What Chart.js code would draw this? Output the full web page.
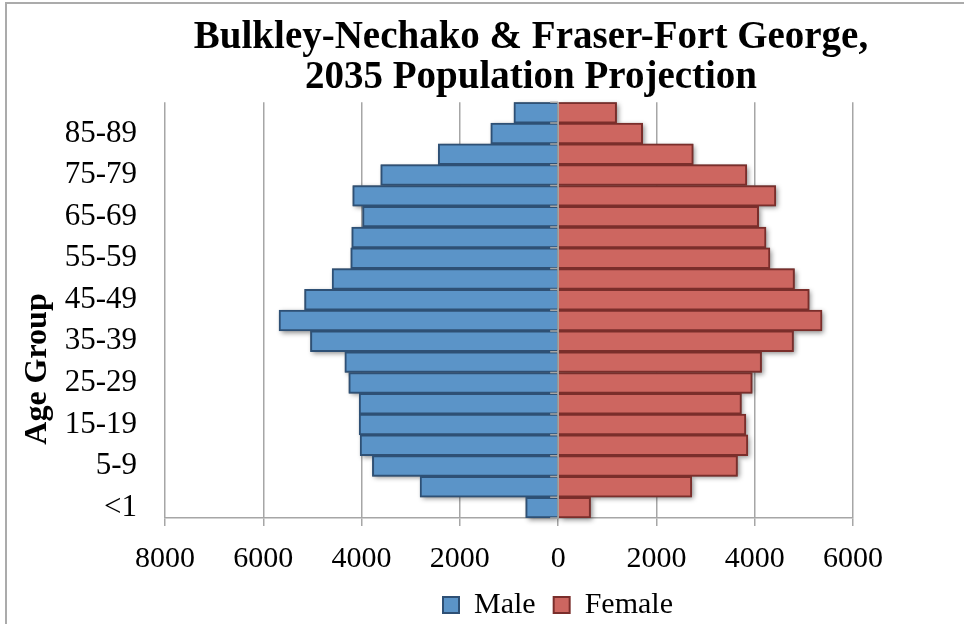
<!DOCTYPE html>
<html><head><meta charset="utf-8">
<script src="https://cdn.jsdelivr.net/npm/chart.js@4"></script>
<style>
html,body{margin:0;padding:0;background:#fff;overflow:hidden;}
#wrap{position:relative;width:964px;height:624px;overflow:hidden;}
#frame{position:absolute;left:5px;top:2px;width:1000px;height:700px;border:2px solid #ababab;box-sizing:border-box;pointer-events:none;}
canvas{position:absolute;left:0;top:0;}
</style></head><body>
<div id="wrap"><canvas id="c" width="964" height="624"></canvas><div id="frame"></div></div>
<script>
// Data (youngest to oldest)
const categories = ['<1','1-4','5-9','10-14','15-19','20-24','25-29','30-34','35-39','40-44','45-49','50-54','55-59','60-64','65-69','70-74','75-79','80-84','85-89','90+'];
const maleValues = [660, 2810, 3780, 4030, 4050, 4050, 4260, 4340, 5040, 5680, 5160, 4600, 4220, 4200, 3980, 4180, 3610, 2440, 1370, 900];
const femaleValues = [660, 2720, 3650, 3860, 3820, 3730, 3950, 4140, 4790, 5370, 5110, 4810, 4310, 4230, 4080, 4430, 3840, 2750, 1720, 1190];
const seriesNames = ['Male', 'Female'];
const titleLines = ['Bulkley-Nechako & Fraser-Fort George,', '2035 Population Projection'];
const yAxisTitle = 'Age Group';
const xMin = -8000, xMax = 6000, xStep = 2000;

const FONT = "'Liberation Serif', 'Times New Roman', serif";
Chart.defaults.font.family = FONT;
Chart.defaults.color = '#000';

const shiftPlugin = {
  id: 'shiftBlocks',
  afterLayout(chart) {
    const t = chart.titleBlock;
    if (t) { const d = 531 - (t.left + t.right) / 2; t.left += d; t.right += d; }
    const l = chart.legend;
    if (l) { const d = 558 - (l.left + l.right) / 2; l.left += d; l.right += d; }
  }
};

const shadowPlugin = {
  id: 'barShadow',
  beforeDatasetsDraw(chart) {
    const ctx = chart.ctx;
    ctx.save();
    ctx.shadowColor = 'rgba(0,0,0,0.45)';
    ctx.shadowBlur = 5;
    ctx.shadowOffsetX = 2;
    ctx.shadowOffsetY = 2;
    ctx.fillStyle = '#777';
    chart.data.datasets.forEach((ds, di) => {
      chart.getDatasetMeta(di).data.forEach(el => {
        const p = el.getProps(['x', 'y', 'base', 'height'], true);
        const l = Math.min(p.x, p.base), r = Math.max(p.x, p.base);
        ctx.fillRect(l, p.y - p.height / 2, r - l, p.height);
      });
    });
    ctx.restore();
  }
};

const zeroAxisPlugin = {
  id: 'zeroAxis',
  afterDatasetsDraw(chart) {
    const ctx = chart.ctx, xs = chart.scales.x, a = chart.chartArea;
    const x0 = xs.getPixelForValue(0);
    const n = categories.length, step = (a.bottom - a.top) / n;
    ctx.save();
    ctx.strokeStyle = '#a6a6a6';
    ctx.lineWidth = 1.5;
    ctx.beginPath();
    ctx.moveTo(x0, a.top); ctx.lineTo(x0, a.bottom);
    for (let i = 0; i <= n; i++) {
      const y = a.top + i * step;
      ctx.moveTo(x0 - 8, y); ctx.lineTo(x0, y);
    }
    ctx.stroke();
    ctx.restore();
  }
};

const yTitlePlugin = {
  id: 'yTitle',
  afterDraw(chart) {
    const ctx = chart.ctx;
    ctx.save();
    ctx.translate(38, 369);
    ctx.rotate(-Math.PI / 2);
    ctx.font = "bold 32px " + FONT;
    ctx.textAlign = 'center';
    ctx.textBaseline = 'middle';
    ctx.fillStyle = '#000';
    ctx.fillText(yAxisTitle, 0, 0);
    ctx.restore();
  }
};

new Chart(document.getElementById('c'), {
  type: 'bar',
  data: {
    labels: categories,
    datasets: [
      { label: seriesNames[0], data: maleValues.map(v => -v), backgroundColor: '#5b94c8', borderColor: '#2e5075', borderWidth: 2, borderSkipped: 'start' },
      { label: seriesNames[1], data: femaleValues, backgroundColor: '#cd6660', borderColor: '#7a2e2b', borderWidth: 2, borderSkipped: 'start' }
    ]
  },
  options: {
    indexAxis: 'y',
    responsive: false,
    animation: false,
    devicePixelRatio: 1,
    datasets: { bar: { barPercentage: 1, categoryPercentage: 1 } },
    layout: { padding: { left: 0, right: 111, top: 4, bottom: -6 } },
    scales: {
      x: {
        stacked: true, min: xMin, max: xMax,
        ticks: { stepSize: xStep, callback: v => Math.abs(v), font: { size: 30, lineHeight: 1 }, padding: 18, maxRotation: 0, color: '#000' },
        grid: { color: '#a6a6a6', lineWidth: 1.5, tickLength: 8 },
        border: { color: '#a6a6a6', width: 1.5 },
        afterFit: s => { s.height = 54; }
      },
      y: {
        stacked: true, reverse: true,
        grid: { display: false, drawTicks: false },
        border: { display: false },
        ticks: {
          autoSkip: false, font: { size: 31 }, padding: 28, color: '#000',
          callback: function (v, i) { return i % 2 === 0 ? this.getLabelForValue(v) : ''; }
        },
        afterFit: s => { s.width = 165; }
      }
    },
    plugins: {
      title: { display: true, text: titleLines, font: { size: 39, weight: 'bold', lineHeight: 1.03 }, padding: { top: 14, bottom: 4 }, color: '#000' },
      legend: { position: 'bottom', labels: { boxWidth: 16, boxHeight: 16, padding: 18, font: { size: 30, lineHeight: 1 }, color: '#000' } },
      tooltip: { enabled: false }
    }
  },
  plugins: [shiftPlugin, shadowPlugin, zeroAxisPlugin, yTitlePlugin]
});
</script>
</body></html>
